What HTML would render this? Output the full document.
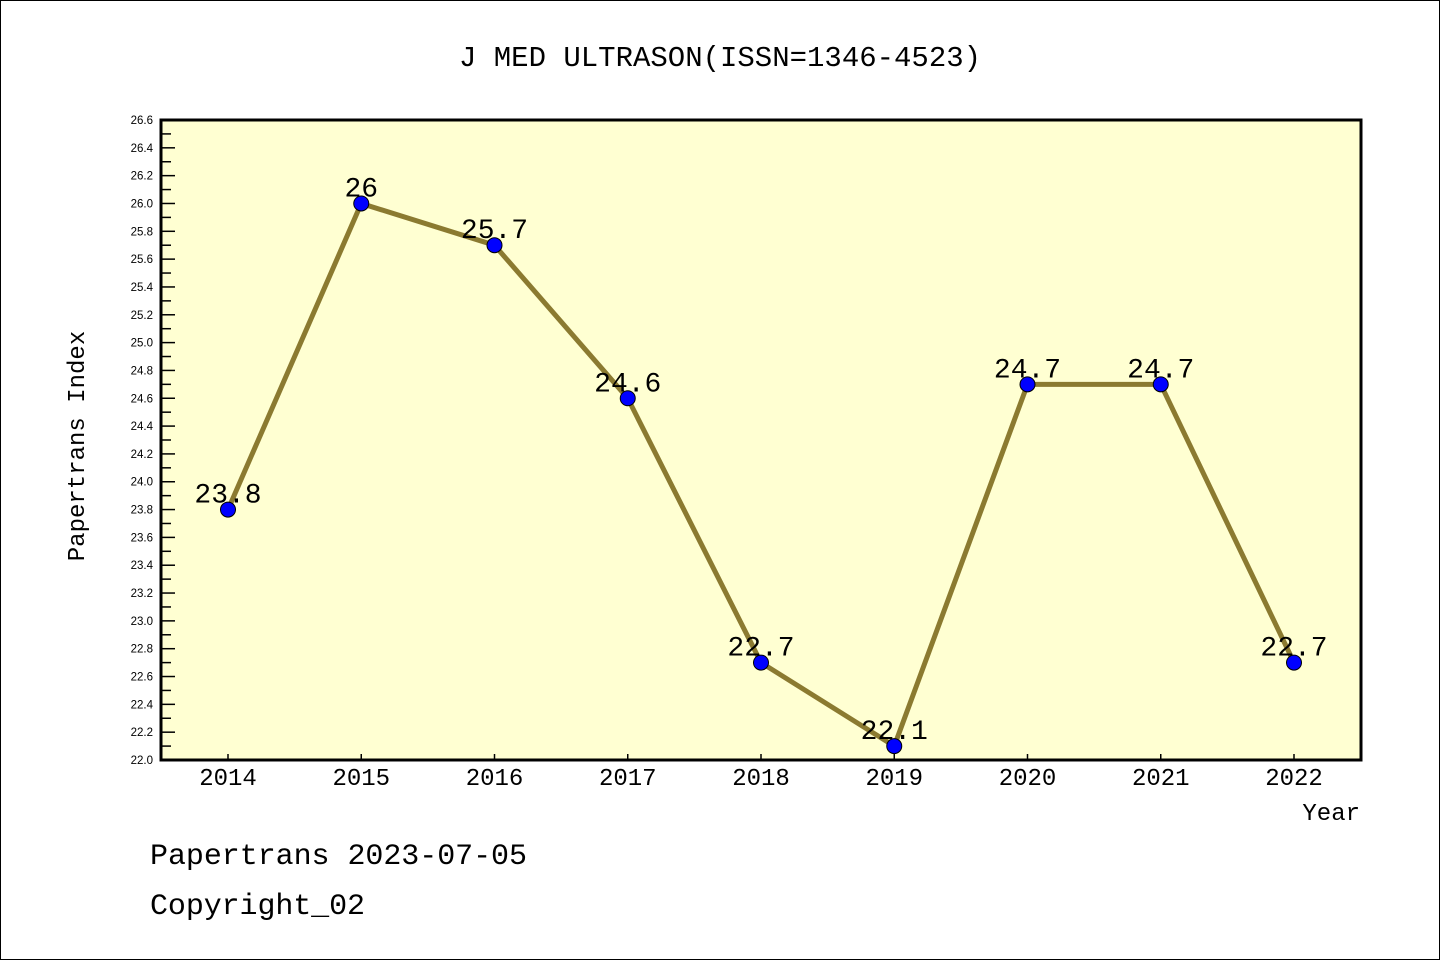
<!DOCTYPE html>
<html><head><meta charset="utf-8"><style>
body{margin:0;background:#fff}
svg{display:block}
text{font-family:"Liberation Mono","WenQuanYi Zen Hei",monospace;fill:#000}
</style></head><body>
<svg id="chart" width="1440" height="960" xmlns="http://www.w3.org/2000/svg">
<rect x="0.5" y="0.5" width="1439" height="959" fill="#fff" stroke="#000"/>
<text x="720" y="66" font-size="29" text-anchor="middle">J MED ULTRASON(ISSN=1346-4523)</text>
<rect x="161" y="120" width="1200" height="640" fill="#ffffd2"/>
<g id="yticks"></g><g id="xticks"></g>
<g id="series"></g>
<rect x="161" y="120" width="1200" height="640" fill="none" stroke="#000" stroke-width="3"/>
<text transform="translate(84,446) rotate(-90)" font-size="24" text-anchor="middle">Papertrans Index</text>
<text x="1360" y="820" font-size="24" text-anchor="end">Year</text>
<text x="150" y="864" font-size="30" textLength="377">Papertrans 2023-07-05</text>
<text x="150" y="914" font-size="30" textLength="215">Copyright_02</text>
</svg>
<script>
const years=["2014","2015","2016","2017","2018","2019","2020","2021","2022"];
const values=[23.8,26.0,25.7,24.6,22.7,22.1,24.7,24.7,22.7];
const labels=["23.8","26","25.7","24.6","22.7","22.1","24.7","24.7","22.7"];
const yMin=22.0,yMax=26.6;
const NS="http://www.w3.org/2000/svg";
function y(v){return 760-(v-yMin)/(yMax-yMin)*640;}
function x(i){return 228+i*133.25;}
function mk(t,a,p){const e=document.createElementNS(NS,t);for(const k in a)e.setAttribute(k,a[k]);p.appendChild(e);return e;}
const yt=document.getElementById('yticks');
for(let k=0;k<=46;k++){const v=yMin+k*0.1;const yy=y(v);const major=k%2===0;
const l=mk('line',{x1:161,x2:161+(major?14:10),y1:yy,y2:yy,stroke:'#000','stroke-width':1.5},yt);


if(major){const t=mk('text',{x:153,y:yy+4,'font-size':11.5,'text-anchor':'end','style':'font-family:"Liberation Sans",sans-serif'},yt);t.textContent=v.toFixed(1);

}}
const xt=document.getElementById('xticks');
years.forEach((yr,i)=>{const l=mk('line',{x1:x(i),x2:x(i),y1:760,y2:754,stroke:'#000','stroke-width':1.5},xt);


const t=mk('text',{x:x(i),y:785,'font-size':24,'text-anchor':'middle'},xt);t.textContent=yr;

});
const s=document.getElementById('series');
const pl=mk('polyline',{points:values.map((v,i)=>x(i)+','+y(v)).join(' '),fill:'none',stroke:'#8b7a30','stroke-width':5},s);


values.forEach((v,i)=>{const c=mk('circle',{cx:x(i),cy:y(v),r:7.5,fill:'#0000ff',stroke:'#000','stroke-width':1},s);


const t=mk('text',{x:x(i),y:y(v)-7,'font-size':28,'text-anchor':'middle'},s);t.textContent=labels[i];

});
</script>
</body></html>
